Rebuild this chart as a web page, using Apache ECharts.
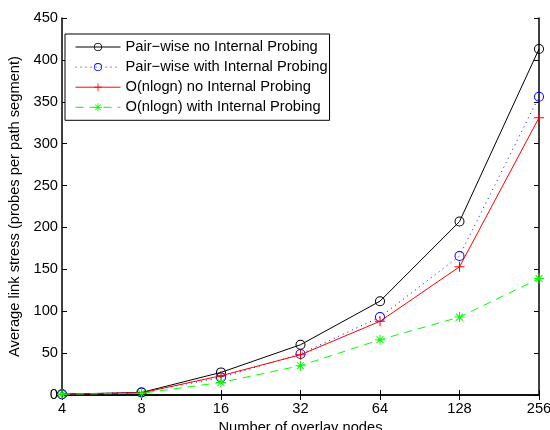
<!DOCTYPE html>
<html>
<head>
<meta charset="utf-8">
<script src="https://cdn.jsdelivr.net/npm/echarts@6/dist/echarts.min.js"></script>
<style>
  html, body { margin: 0; padding: 0; background: #fff; }
  #chart { width: 550px; height: 430px; }
</style>
</head>
<body>
<div id="chart"></div>
<script>
// Overlay size (number of nodes) on a log2 spacing
const nodeCounts = ['4', '8', '16', '32', '64', '128', '256'];

// Average link stress, probes per path segment
const pairwiseNoProbing   = [1, 3, 27, 60, 112, 207, 413];
const pairwiseWithProbing = [1, 3, 21, 49, 93, 166, 356];
const nlognNoProbing      = [1, 2.5, 23, 48, 88, 153, 331];
const nlognWithProbing    = [1, 2, 15, 35, 66, 93, 139];

const yTicks = { min: 0, max: 450, interval: 50 };

const seriesNames = [
  'Pair\u2212wise no Internal Probing',
  'Pair\u2212wise with Internal Probing',
  'O(nlogn) no Internal Probing',
  'O(nlogn) with Internal Probing'
];

const FONT = '"Liberation Sans", Arial, Helvetica, sans-serif';
const FS = 14.7;

// hollow ring, thin plus and asterisk markers built from filled outlines
const ringPath = 'path://M5,0A5,5 0 1,1 5,10A5,5 0 1,1 5,0Z M5,1A4,4 0 1,0 5,9A4,4 0 1,0 5,1Z';
const plusPath = 'path://M0,4.5h10v1h-10z M4.5,0h1v10h-1z';
const starPath = 'path://M0,4.5h10v1h-10z M4.5,0h1v10h-1z ' +
  'M1.2,1.9L1.9,1.2L8.8,8.1L8.1,8.8Z M8.1,1.2L8.8,1.9L1.9,8.8L1.2,8.1Z';

const chart = echarts.init(document.getElementById('chart'), null, { renderer: 'canvas' });

const tickStyle = { show: true, inside: true, length: 5, lineStyle: { color: '#000', width: 1 } };
const axisLine = { show: true, lineStyle: { color: '#000', width: 1.5 } };

chart.setOption({
  animation: false,
  backgroundColor: '#fff',
  // fixed plot box; labels may run to the canvas edge
  grid: { left: 62, right: 11, top: 18, bottom: 35, containLabel: false, outerBoundsMode: 'none' },
  legend: {
    orient: 'vertical',
    left: 65,
    top: 34,
    padding: [5.5, 2, 5.5, 10],
    itemGap: 5.1,
    itemWidth: 45,
    itemHeight: 10,
    backgroundColor: '#fff',
    borderColor: '#000',
    borderWidth: 1,
    borderRadius: 0,
    lineStyle: { width: 1 },
    textStyle: { fontFamily: FONT, fontSize: FS, color: '#000' },
    data: seriesNames
  },
  xAxis: [
    {
      type: 'category',
      data: nodeCounts,
      boundaryGap: false,
      name: 'Number of overlay nodes',
      nameLocation: 'middle',
      nameGap: 22,
      nameTextStyle: { fontFamily: FONT, fontSize: FS, color: '#000' },
      axisLine: axisLine,
      axisTick: tickStyle,
      axisLabel: { fontFamily: FONT, fontSize: FS, color: '#000', margin: 6 },
      splitLine: { show: false }
    },
    {
      type: 'category',
      data: nodeCounts,
      boundaryGap: false,
      position: 'top',
      axisLine: axisLine,
      axisTick: tickStyle,
      axisLabel: { show: false },
      splitLine: { show: false }
    }
  ],
  yAxis: [
    {
      type: 'value',
      min: yTicks.min,
      max: yTicks.max,
      interval: yTicks.interval,
      name: 'Average link stress (probes per path segment)',
      nameLocation: 'middle',
      nameGap: 33,
      nameTextStyle: { fontFamily: FONT, fontSize: FS, color: '#000' },
      axisLine: axisLine,
      axisTick: tickStyle,
      axisLabel: { fontFamily: FONT, fontSize: FS, color: '#000', margin: 4 },
      splitLine: { show: false }
    },
    {
      type: 'value',
      min: yTicks.min,
      max: yTicks.max,
      interval: yTicks.interval,
      position: 'right',
      axisLine: axisLine,
      axisTick: tickStyle,
      axisLabel: { show: false },
      splitLine: { show: false }
    }
  ],
  series: [
    {
      name: seriesNames[0],
      type: 'line',
      data: pairwiseNoProbing,
      symbol: ringPath,
      symbolSize: 10,
      lineStyle: { color: '#000', width: 1, type: 'solid' },
      itemStyle: { color: '#000', borderWidth: 0 },
      z: 2
    },
    {
      name: seriesNames[1],
      type: 'line',
      data: pairwiseWithProbing,
      symbol: ringPath,
      symbolSize: 10,
      lineStyle: { color: '#0000ff', width: 1, type: [1, 4] },
      itemStyle: { color: '#0000ff', borderWidth: 0 },
      z: 3
    },
    {
      name: seriesNames[2],
      type: 'line',
      data: nlognNoProbing,
      symbol: plusPath,
      symbolSize: 10,
      lineStyle: { color: '#ff0000', width: 1, type: 'solid' },
      itemStyle: { color: '#ff0000', borderWidth: 0 },
      z: 4
    },
    {
      name: seriesNames[3],
      type: 'line',
      data: nlognWithProbing,
      symbol: starPath,
      symbolSize: 10,
      lineStyle: { color: '#00ff00', width: 1, type: [8, 6] },
      itemStyle: { color: '#00ff00', borderWidth: 0 },
      z: 5
    }
  ]
});
</script>
</body>
</html>
